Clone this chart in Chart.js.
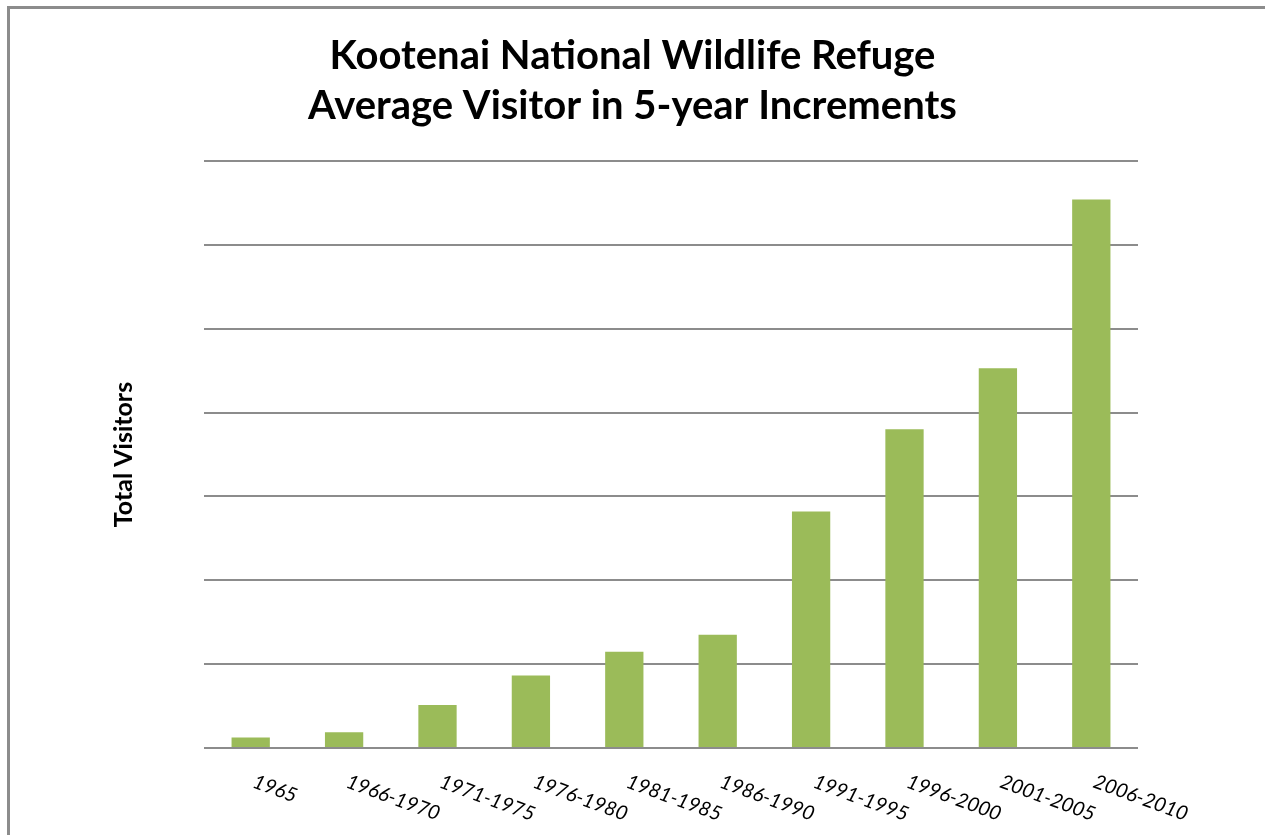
<!DOCTYPE html>
<html>
<head>
<meta charset="utf-8">
<script src="https://cdn.jsdelivr.net/npm/chart.js@4/dist/chart.umd.min.js"></script>
<style>
  html, body { margin: 0; padding: 0; background: #fff; }
  #wrap { position: relative; width: 1265px; height: 835px; overflow: hidden; }
  #frame { position: absolute; left: 7px; top: 6px; width: 1300px; height: 900px;
           border-left: 3px solid #8c8c8c; border-top: 3px solid #8c8c8c; }
  #visitorChart { position: absolute; left: 0; top: 0; }
</style>
</head>
<body>
<div id="wrap">
  <div id="frame"></div>
  <canvas id="visitorChart" width="1265" height="835"></canvas>
</div>
<script>
const periods = ["1965", "1966-1970", "1971-1975", "1976-1980", "1981-1985",
                 "1986-1990", "1991-1995", "1996-2000", "2001-2005", "2006-2010"];
const avgVisitors = [620, 935, 2560, 4330, 5740, 6750, 14100, 19000, 22650, 32700];
const yTicks = [0, 5000, 10000, 15000, 20000, 25000, 30000, 35000];

const titleLines = ["Kootenai National Wildlife Refuge", "Average Visitor in 5-year Increments"];

// slanted category labels (Excel style, rotated clockwise)
const slantLabels = {
  id: "slantLabels",
  afterDraw: chart => {
    const { ctx, chartArea } = chart;
    const xs = chart.scales.x;
    ctx.save();
    ctx.font = "italic 20px Lato";
    ctx.fillStyle = "#000";
    ctx.textAlign = "left";
    ctx.textBaseline = "middle";
    periods.forEach((p, i) => {
      ctx.save();
      ctx.translate(xs.getPixelForTick(i) + 3, chartArea.bottom + 33);
      ctx.rotate(20 * Math.PI / 180);
      ctx.fillText(p, 0, 0);
      ctx.restore();
    });
    ctx.restore();
  }
};

new Chart(document.getElementById("visitorChart"), {
  type: "bar",
  data: {
    labels: periods,
    datasets: [{
      label: "Average Visitors",
      data: avgVisitors,
      backgroundColor: "#9bbb59",
      borderWidth: 0,
      categoryPercentage: 1,
      barPercentage: 0.41
    }]
  },
  options: {
    responsive: false,
    animation: false,
    layout: { padding: 0 },
    plugins: {
      legend: { display: false },
      tooltip: { enabled: false },
      title: {
        display: true,
        text: titleLines,
        color: "#000",
        font: { family: "Lato", size: 40, weight: "bold", lineHeight: 1.25 },
        padding: { top: 31, bottom: 30 }
      }
    },
    scales: {
      x: {
        grid: { display: false },
        border: { display: false },
        ticks: { display: false },
        afterFit: scale => { scale.height = 87; }
      },
      y: {
        min: yTicks[0],
        max: yTicks[yTicks.length - 1],
        afterBuildTicks: scale => { scale.ticks = yTicks.map(v => ({ value: v })); },
        grid: { color: "#8c8c8c", lineWidth: 2, drawTicks: false },
        border: { display: false },
        ticks: { display: false },
        title: {
          display: true,
          text: "Total Visitors",
          color: "#000",
          font: { family: "Lato", size: 25, weight: "bold", lineHeight: 1.2 },
          padding: { top: 109, bottom: 0 }
        },
        afterFit: scale => { scale.width = 204; }
      },
      // empty right axis, only keeps the white margin right of the plot
      yRight: {
        position: "right",
        grid: { display: false },
        border: { display: false },
        ticks: { display: false },
        afterFit: scale => { scale.width = 127; }
      }
    }
  },
  plugins: [slantLabels]
});
</script>
</body>
</html>
